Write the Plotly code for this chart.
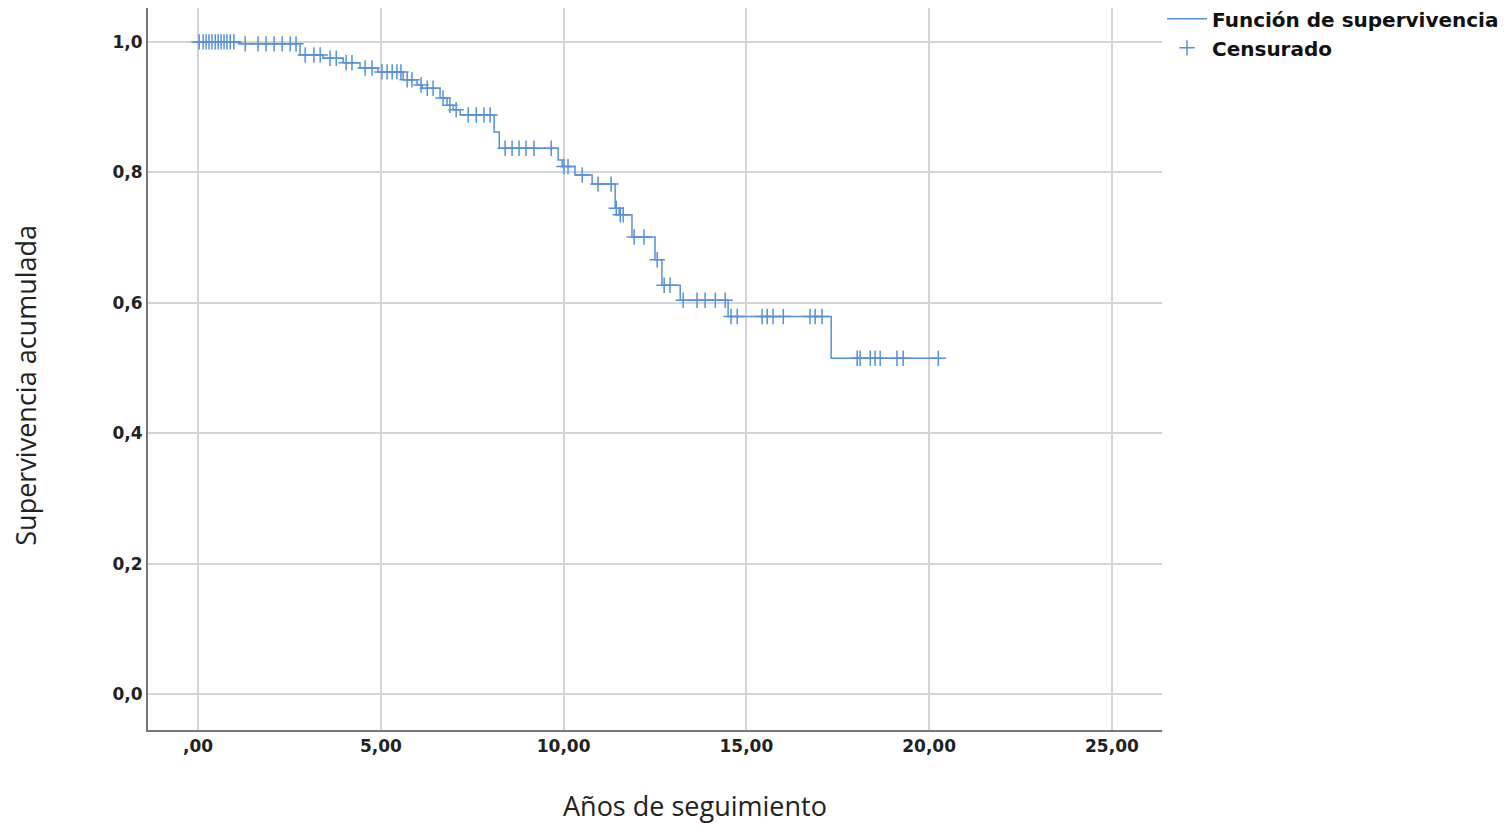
import numpy as np
import plotly.graph_objects as go

# --- Daten (Kaplan-Meier) ---
event_times = [1.15, 2.79, 3.42, 3.97, 4.43, 4.92, 5.61, 5.99, 6.13, 6.62, 6.81, 6.98,
               7.17, 8.10, 8.24, 9.85, 9.96, 10.31, 10.78, 11.41, 11.52, 11.87, 12.50,
               12.69, 13.19, 14.50, 17.32]
event_surv = [0.997, 0.980, 0.975, 0.968, 0.960, 0.954, 0.942, 0.934, 0.929, 0.914, 0.903,
              0.896, 0.888, 0.862, 0.837, 0.819, 0.809, 0.796, 0.782, 0.745, 0.735, 0.701,
              0.666, 0.627, 0.604, 0.579, 0.515]
censor_times = [0.03, 0.14, 0.22, 0.30, 0.38, 0.47, 0.55, 0.63, 0.71, 0.79, 0.88, 0.98,
                1.29, 1.64, 1.86, 2.08, 2.30, 2.52, 2.68, 2.93, 3.17, 3.34, 3.61, 3.78,
                4.05, 4.21, 4.57, 4.76, 5.03, 5.17, 5.31, 5.44, 5.55, 5.72, 5.85, 6.10,
                6.27, 6.43, 6.70, 6.89, 7.06, 7.39, 7.61, 7.82, 7.99, 8.40, 8.59, 8.78,
                8.97, 9.19, 9.66, 10.01, 10.12, 10.51, 10.94, 11.30, 11.44, 11.55, 11.63,
                11.93, 12.20, 12.56, 12.75, 12.91, 13.27, 13.65, 13.87, 14.15, 14.42,
                14.58, 14.75, 15.43, 15.57, 15.73, 16.01, 16.74, 16.88, 17.07, 18.03,
                18.11, 18.39, 18.52, 18.66, 19.12, 19.29, 20.25]

x_ticks = [0, 5, 10, 15, 20, 25]
x_ticklabels = [",00", "5,00", "10,00", "15,00", "20,00", "25,00"]
y_ticks = [0, 0.2, 0.4, 0.6, 0.8, 1.0]

BLUE = "#5590de"


def surv_at(t):
    idx = np.searchsorted(event_times, t, side="right")
    return 1.0 if idx == 0 else event_surv[idx - 1]


# Stufenkurve
xs = [0.0] + list(event_times) + [max(censor_times)]
ys = [1.0] + list(event_surv) + [event_surv[-1]]
cens_y = [surv_at(t) for t in censor_times]

fig = go.Figure()
fig.add_trace(go.Scatter(x=xs, y=ys, mode="lines", line_shape="hv",
                         line=dict(color=BLUE, width=1.5),
                         name="Función de supervivencia"))
fig.add_trace(go.Scatter(x=censor_times, y=cens_y, mode="markers",
                         marker=dict(symbol="cross-thin", size=11,
                                     line=dict(color=BLUE, width=1.5)),
                         name="Censurado"))

tickfont = dict(family="DejaVu Sans", size=17, color="#222", weight="bold")
titlefont = dict(family="Open Sans", size=27, color="#222")

fig.update_layout(
    width=1500, height=817,
    margin=dict(l=140, r=346, t=0, b=95, autoexpand=False),
    plot_bgcolor="white", paper_bgcolor="white",
    separators=",.",
    font=dict(family="Open Sans, DejaVu Sans, sans-serif", color="#222"),
    legend=dict(x=1.0, y=1.012, xanchor="left", yanchor="top",
                font=dict(family="DejaVu Sans", size=20, color="#111", weight="bold"),
                tracegroupgap=0, itemwidth=40, bgcolor="rgba(0,0,0,0)"),
    xaxis=dict(range=[-1.37, 26.37], tickvals=x_ticks, ticktext=x_ticklabels,
               showgrid=True, gridcolor="#d4d4d4", gridwidth=2,
               showline=True, linecolor="#777", linewidth=2, zeroline=False,
               ticks="", tickfont=tickfont),
    yaxis=dict(range=[-0.055, 1.052], tickvals=y_ticks, tickformat=".1f",
               showgrid=True, gridcolor="#d4d4d4", gridwidth=2,
               showline=True, linecolor="#777", linewidth=2, zeroline=False,
               ticks="", tickfont=tickfont),
    annotations=[
        dict(text="Años de seguimiento", xref="paper", yref="paper",
             x=0.539, y=-0.104, xanchor="center", yanchor="middle",
             showarrow=False, font=titlefont),
        dict(text="Supervivencia acumulada", xref="paper", yref="paper",
             x=-0.1205, y=0.478, xanchor="center", yanchor="middle",
             textangle=-90, showarrow=False, font=titlefont, borderpad=0),
    ],
)

fig.write_html("out.html")
